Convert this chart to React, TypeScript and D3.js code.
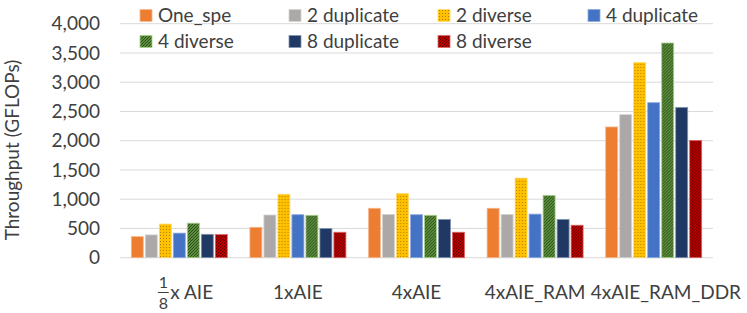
import React from "react";
import * as d3 from "d3";

const categories = ["1/8 x AIE", "1xAIE", "4xAIE", "4xAIE_RAM", "4xAIE_RAM_DDR"];
const seriesNames = ["One_spe", "2 duplicate", "2 diverse", "4 duplicate", "4 diverse", "8 duplicate", "8 diverse"];
const oneSpe = [360, 520, 845, 845, 2235];
const dup2 = [390, 730, 740, 740, 2445];
const div2 = [575, 1085, 1095, 1360, 3335];
const dup4 = [420, 735, 735, 745, 2650];
const div4 = [590, 725, 725, 1065, 3670];
const dup8 = [400, 500, 655, 655, 2570];
const div8 = [395, 435, 435, 555, 2005];
const yTicks = [0, 500, 1000, 1500, 2000, 2500, 3000, 3500, 4000];

const seriesValues = [oneSpe, dup2, div2, dup4, div4, dup8, div8];

interface ISeriesStyle {
  fill: string;
  stroke: string;
}

const styles: ISeriesStyle[] = [
  { fill: "#ED7D31", stroke: "#F6B88F" },
  { fill: "#ABA8A7", stroke: "#D6D4D3" },
  { fill: "url(#dotsYellow)", stroke: "#FFD966" },
  { fill: "#4472C4", stroke: "#8FAADC" },
  { fill: "url(#hatchGreen)", stroke: "#A9D18E" },
  { fill: "#203864", stroke: "#8496B0" },
  { fill: "url(#hatchRed)", stroke: "#E06666" },
];

const font = "Lato, 'Open Sans', sans-serif";
const fs = 19;

const App = () => {
  const width = 747;
  const height = 313;
  const margin = { top: 23.7, right: 34, bottom: 55.3, left: 120 };

  const x0 = d3.scaleBand<string>().domain(categories).range([margin.left, width - margin.right]);
  const inner = (x0.bandwidth() - 98) / 2;
  const x1 = d3
    .scaleBand<string>()
    .domain(seriesNames)
    .range([inner, x0.bandwidth() - inner])
    .paddingInner(1 / 7)
    .paddingOuter(1 / 14);
  const y = d3.scaleLinear().domain([0, 4000]).range([height - margin.bottom, margin.top]);
  const fmt = d3.format(",");

  const legendCols = [140, 289, 438, 588];
  const legendRows = [15.5, 41.5];

  return (
    <svg width={width} height={height} style={{ position: "absolute", left: 0, top: 0 }}>
      <defs>
        <pattern id="dotsYellow" width={3} height={3} patternUnits="userSpaceOnUse">
          <rect width={3} height={3} fill="#FFC000" />
          <rect x={1} y={1} width={1} height={1} fill="#B08400" />
        </pattern>
        <pattern id="hatchGreen" width={3} height={3} patternUnits="userSpaceOnUse">
          <rect width={3} height={3} fill="#70AD47" />
          <path d="M0,3 L3,0 M-1,1 L1,-1 M2,4 L4,2" stroke="#2B4A1C" strokeWidth={1.2} />
        </pattern>
        <pattern id="hatchRed" width={3} height={3} patternUnits="userSpaceOnUse">
          <rect width={3} height={3} fill="#C00000" />
          <path d="M0,3 L3,0 M-1,1 L1,-1 M2,4 L4,2" stroke="#5A0000" strokeWidth={1} />
        </pattern>
      </defs>
      <rect width={width} height={height} fill="#fff" />

      {yTicks.map((t) => (
        <g key={t}>
          <line x1={margin.left} x2={width - margin.right} y1={y(t)} y2={y(t)} stroke="#D9D9D9" strokeWidth={1} />
          <text x={100} y={y(t)} dy="0.35em" textAnchor="end" fontFamily={font} fontSize={fs} fill="#404040">
            {fmt(t)}
          </text>
        </g>
      ))}

      <text
        transform={`translate(19, 150) rotate(-90)`}
        textAnchor="middle"
        fontFamily={font}
        fontSize={fs}
        fill="#404040"
      >
        Throughput (GFLOPs)
      </text>

      {categories.map((c, ci) => (
        <g key={c} transform={`translate(${x0(c)}, 0)`}>
          {seriesNames.map((s, si) => {
            const v = seriesValues[si][ci];
            return (
              <rect
                key={s}
                x={x1(s)}
                y={y(v)}
                width={x1.bandwidth()}
                height={y(0) - y(v)}
                fill={styles[si].fill}
                stroke={styles[si].stroke}
                strokeWidth={0.8}
              />
            );
          })}
        </g>
      ))}

      {categories.map((c, ci) => {
        const cx = (x0(c) as number) + x0.bandwidth() / 2;
        if (ci === 0) {
          return (
            <g key={c} fontFamily={font} fill="#404040">
              <text x={cx - 16} y={288} textAnchor="middle" fontSize={16}>1</text>
              <line x1={cx - 21.5} x2={cx - 10.5} y1={292.5} y2={292.5} stroke="#404040" strokeWidth={1} />
              <text x={cx - 16} y={309} textAnchor="middle" fontSize={16}>8</text>
              <text x={cx - 9} y={299} fontSize={fs}>x AIE</text>
            </g>
          );
        }
        const last = ci === categories.length - 1;
        return (
          <text
            key={c}
            x={last ? width - 6 : cx}
            y={299}
            textAnchor={last ? "end" : "middle"}
            fontFamily={font}
            fontSize={fs}
            fill="#404040"
          >
            {c}
          </text>
        );
      })}

      {seriesNames.map((s, i) => {
        const col = i < 4 ? i : i - 4;
        const row = i < 4 ? 0 : 1;
        const lx = legendCols[col];
        const ly = legendRows[row];
        return (
          <g key={s}>
            <rect x={lx} y={ly - 6} width={12} height={12} fill={styles[i].fill} stroke={styles[i].stroke} strokeWidth={0.8} />
            <text x={lx + 18} y={ly} dy="0.35em" fontFamily={font} fontSize={fs} fill="#404040">
              {s}
            </text>
          </g>
        );
      })}
    </svg>
  );
};

export default App;
